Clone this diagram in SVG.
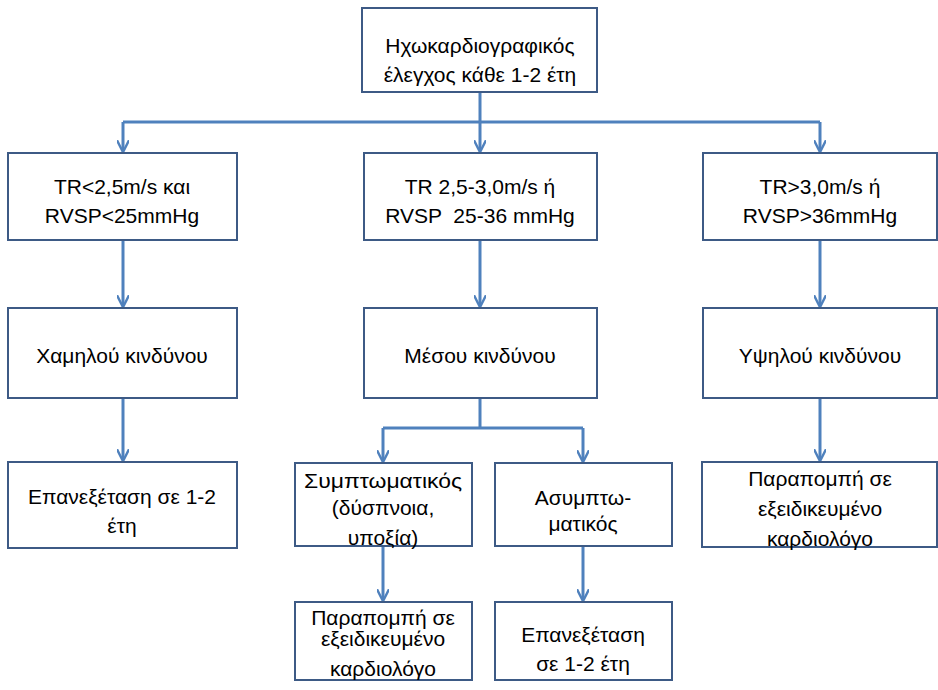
<svg xmlns="http://www.w3.org/2000/svg" width="938" height="690" viewBox="0 0 938 690">
<defs>
<style>
.box{fill:#ffffff;stroke:#3d5a85;stroke-width:2}
.t{font-family:"Liberation Sans","DejaVu Sans",sans-serif;font-size:21px;fill:#000;text-anchor:middle}
.c{fill:none;stroke:#4f81bd;stroke-width:3}
</style>
<marker id="ah" viewBox="0 0 10 10" refX="9" refY="5" markerWidth="4" markerHeight="4" orient="auto" markerUnits="strokeWidth">
<path d="M0,0 L10,5 L0,10" fill="none" stroke="#4f81bd" stroke-width="2"/>
</marker>
</defs>
<rect width="938" height="690" fill="#ffffff"/>
<g id="connectors">
<path class="c" d="M480,92 V122"/>
<path class="c" d="M123,122 H820"/>
<path class="c" d="M123,122 V151" marker-end="url(#ah)"/>
<path class="c" d="M480,122 V151" marker-end="url(#ah)"/>
<path class="c" d="M820,122 V151" marker-end="url(#ah)"/>
<path class="c" d="M123,240 V306" marker-end="url(#ah)"/>
<path class="c" d="M480,240 V306" marker-end="url(#ah)"/>
<path class="c" d="M820,240 V306" marker-end="url(#ah)"/>
<path class="c" d="M123,398 V460" marker-end="url(#ah)"/>
<path class="c" d="M820,398 V460" marker-end="url(#ah)"/>
<path class="c" d="M480,398 V428"/>
<path class="c" d="M383,428 H583"/>
<path class="c" d="M383,428 V461" marker-end="url(#ah)"/>
<path class="c" d="M583,428 V461" marker-end="url(#ah)"/>
<path class="c" d="M383,546 V600" marker-end="url(#ah)"/>
<path class="c" d="M583,546 V600" marker-end="url(#ah)"/>
</g>
<g id="n_top"><rect class="box" x="362" y="8" width="235" height="84"/>
<text class="t" x="480" y="53">Ηχωκαρδιογραφικός</text><text class="t" x="480" y="82">έλεγχος κάθε 1-2 έτη</text></g>
<g id="n_tr_low"><rect class="box" x="8" y="153" width="229" height="87"/>
<text class="t" x="122" y="194">TR&lt;2,5m/s και</text><text class="t" x="122" y="223">RVSP&lt;25mmHg</text></g>
<g id="n_tr_mid"><rect class="box" x="364" y="153" width="233" height="87"/>
<text class="t" x="480" y="194">TR 2,5-3,0m/s ή</text><text class="t" x="480" y="223" xml:space="preserve">RVSP  25-36 mmHg</text></g>
<g id="n_tr_high"><rect class="box" x="703" y="153" width="234" height="87"/>
<text class="t" x="820" y="194">TR&gt;3,0m/s ή</text><text class="t" x="820" y="223">RVSP&gt;36mmHg</text></g>
<g id="n_low"><rect class="box" x="8" y="308" width="229" height="90"/>
<text class="t" x="122" y="363">Χαμηλού κινδύνου</text></g>
<g id="n_mid"><rect class="box" x="364" y="308" width="233" height="90"/>
<text class="t" x="480" y="363">Μέσου κινδύνου</text></g>
<g id="n_high"><rect class="box" x="703" y="308" width="234" height="90"/>
<text class="t" x="820" y="363">Υψηλού κινδύνου</text></g>
<g id="n_low_re"><rect class="box" x="8" y="462" width="229" height="86"/>
<text class="t" x="122" y="504">Επανεξέταση σε 1-2</text><text class="t" x="122" y="533">έτη</text></g>
<g id="n_high_ref"><rect class="box" x="702" y="462" width="235" height="85"/>
<text class="t" x="820" y="486">Παραπομπή σε</text><text class="t" x="820" y="516">εξειδικευμένο</text><text class="t" x="820" y="546">καρδιολόγο</text></g>
<g id="n_symp"><rect class="box" x="295" y="463" width="177" height="83"/>
<text class="t" x="383" y="488" textLength="158" lengthAdjust="spacingAndGlyphs">Συμπτωματικός</text><text class="t" x="383" y="515">(δύσπνοια,</text><text class="t" x="383" y="545">υποξία)</text></g>
<g id="n_asymp"><rect class="box" x="495" y="463" width="177" height="83"/>
<text class="t" x="583" y="505">Ασυμπτω-</text><text class="t" x="583" y="531">ματικός</text></g>
<g id="n_symp_ref"><rect class="box" x="295" y="602" width="177" height="78"/>
<text class="t" x="383" y="625">Παραπομπή σε</text><text class="t" x="383" y="646">εξειδικευμένο</text><text class="t" x="383" y="676">καρδιολόγο</text></g>
<g id="n_asymp_re"><rect class="box" x="495" y="602" width="177" height="78"/>
<text class="t" x="583" y="642">Επανεξέταση</text><text class="t" x="583" y="671">σε 1-2 έτη</text></g>
</svg>
